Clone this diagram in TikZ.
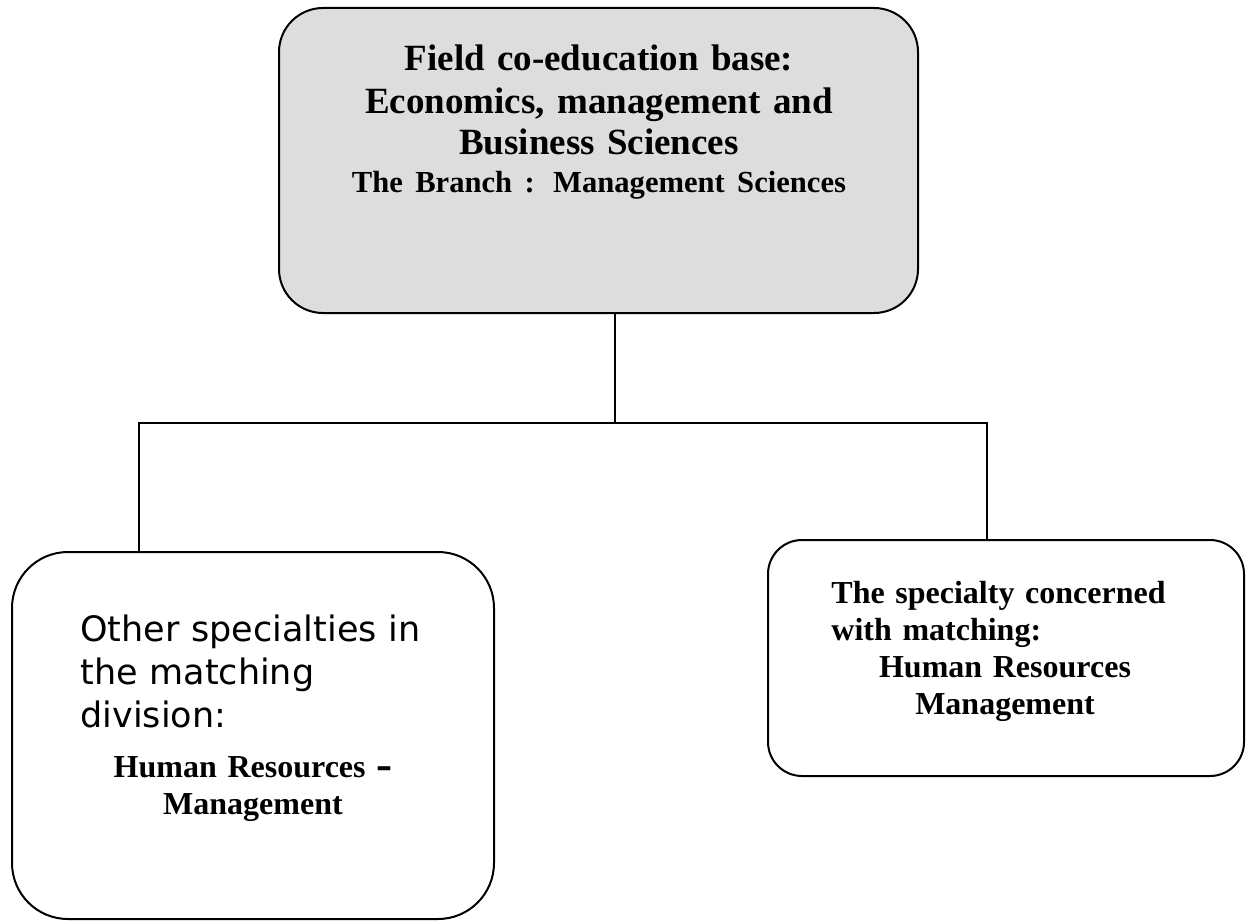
\documentclass[tikz,border=0pt]{standalone}
\usepackage{fontspec}
\setmainfont{Liberation Serif}
\newfontfamily\tahoma{DejaVu Sans}
\definecolor{boxgray}{RGB}{221,221,221}
\begin{document}
\begin{tikzpicture}[x=0.5pt,y=-0.5pt,
  box/.style={draw,line width=1pt,inner sep=0pt},
  link/.style={draw,line width=1pt},
  txt/.style={inner sep=0pt,font=\bfseries\fontsize{16}{18.5}\selectfont}]
  \useasboundingbox (0,0) rectangle (1246,920);
  \node[box,fill=boxgray,minimum width=319.5pt,minimum height=152.5pt,rounded corners=22pt] (top) at (598.5,160.5){};
  \node[box,minimum width=241pt,minimum height=183.5pt,rounded corners=28pt] (left) at (253,735.5){};
  \node[box,minimum width=238pt,minimum height=118pt,rounded corners=17pt] (right) at (1006,658){};
  \node[txt,anchor=base,text width=310pt,align=center,font=\bfseries\fontsize{18.5}{21}\selectfont] (toptxt) at (599,71){Field co-education base:\\Economics, management and\\Business Sciences\\[-2pt]{\fontsize{15.3}{19}\selectfont The Branch : Management Sciences}};
  \node[txt,anchor=base west,text width=220pt,align=left,font=\tahoma\fontsize{17.5}{21.5}\selectfont] (lefttxt) at (80,641){Other specialties in\\the matching\\division:};
  \node[txt,anchor=base,text width=220pt,align=center] (lefthrm) at (253,777){Human Resources {\tahoma\bfseries\fontsize{16}{18}\selectfont –}\\Management};
  \node[txt,anchor=base west,text width=220pt,align=left] (righttxt) at (831,603){The specialty concerned\\with matching:};
  \node[txt,anchor=base,text width=220pt,align=center] (righthrm) at (1005,677){Human Resources\\Management};
  \coordinate (jc) at (615,423);
  \coordinate (jl) at (139,423);
  \coordinate (jr) at (987,423);
  \draw[link] (top.south -| jc) -- (jc);
  \draw[link] (left.north -| jl) -- (jl) -- (jr) -- (right.north -| jr);
\end{tikzpicture}
\end{document}
